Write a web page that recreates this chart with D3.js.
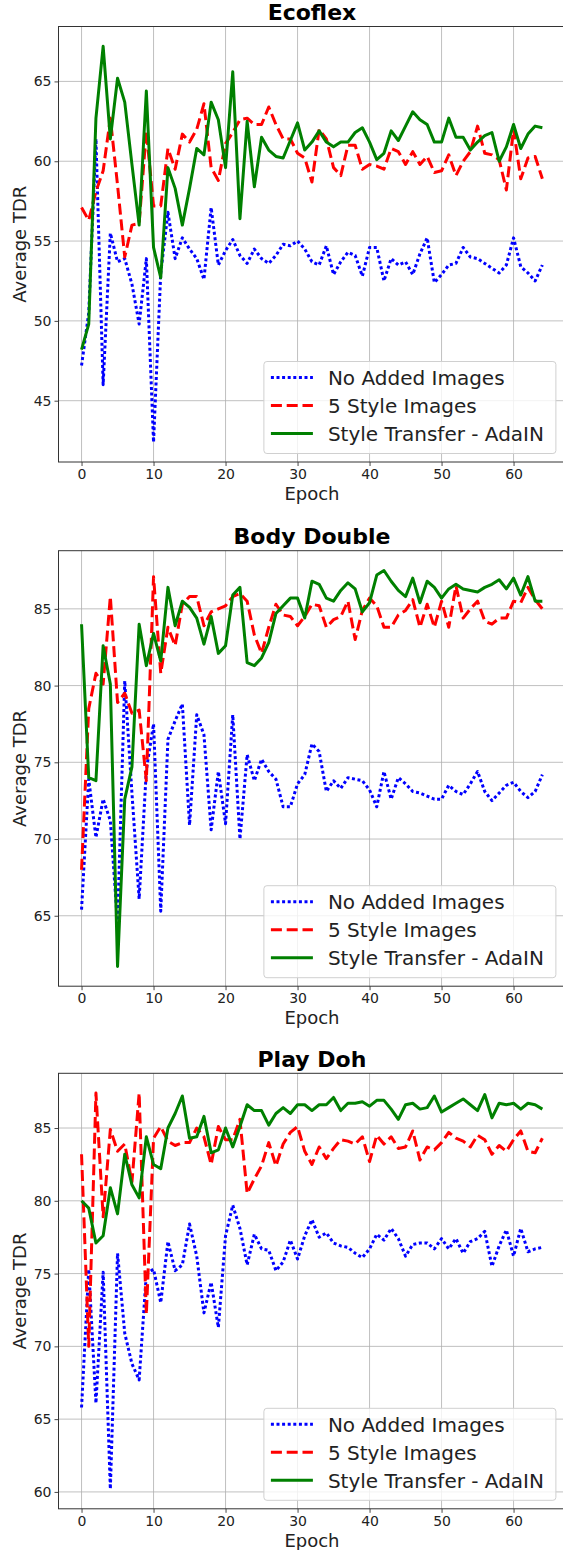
<!DOCTYPE html>
<html>
<head>
<meta charset="utf-8">
<script src="https://cdn.jsdelivr.net/npm/d3@7"></script>
<style>
  body { margin: 0; background: #fff; }
  svg { display: block; font-family: 'DejaVu Sans', sans-serif; }
</style>
</head>
<body>
<div id="chart"></div>
<script>
const panelTitles = ['Ecoflex', 'Body Double', 'Play Doh']
const seriesNames = ['No Added Images', '5 Style Images', 'Style Transfer - AdaIN']
const xTicks = [0, 10, 20, 30, 40, 50, 60]
const yTicksEcoflex = [45, 50, 55, 60, 65]
const yTicksBody = [65, 70, 75, 80, 85]
const yTicksPlay = [60, 65, 70, 75, 80, 85]

// one value per epoch, 0..64
const ecoflexNone = [47.2, 50.5, 61.4, 46.0, 55.5, 53.7, 53.9, 52.3, 49.8, 53.9,
  42.4, 53.0, 56.8, 53.9, 55.2, 54.5, 53.9, 52.6, 57.1, 53.5,
  54.4, 55.1, 54.1, 53.6, 54.5, 53.9, 53.6, 54.1, 54.8, 54.7,
  55.0, 54.5, 53.7, 53.5, 54.7, 52.9, 53.7, 54.3, 54.1, 52.8,
  54.6, 54.6, 52.5, 53.9, 53.5, 53.7, 52.9, 54.2, 55.2, 52.4,
  52.9, 53.5, 53.6, 54.6, 54.0, 53.9, 53.6, 53.3, 53.0, 53.5,
  55.2, 53.4, 53.0, 52.5, 53.5]
const ecoflexStyle = [57.1, 56.3, 58.1, 59.4, 62.7, 58.5, 54.0, 56.0, 56.1, 61.9,
  57.2, 57.2, 60.8, 59.5, 61.7, 61.2, 62.0, 63.6, 59.6, 58.8,
  61.1, 61.8, 62.6, 62.7, 62.3, 62.3, 63.4, 62.3, 61.4, 61.4,
  60.5, 60.2, 58.7, 62.0, 61.4, 59.6, 59.1, 61.0, 61.0, 59.5,
  59.8, 59.7, 59.5, 60.8, 60.6, 59.8, 60.6, 59.8, 60.3, 59.3,
  59.4, 60.4, 59.1, 60.0, 60.6, 62.2, 60.5, 60.4, 60.1, 58.2,
  62.0, 58.9, 60.2, 60.3, 58.9]
const ecoflexAdain = [48.2, 49.8, 62.7, 67.2, 61.4, 65.2, 63.7, 59.8, 56.0, 64.4,
  54.6, 52.7, 59.6, 58.3, 56.0, 58.3, 60.8, 60.4, 63.7, 62.6,
  59.6, 65.6, 56.4, 62.5, 58.4, 61.5, 60.7, 60.3, 60.2, 61.3,
  62.4, 60.7, 61.2, 61.9, 61.2, 60.9, 61.2, 61.2, 61.8, 62.1,
  61.2, 60.1, 60.5, 61.9, 61.3, 62.2, 63.1, 62.6, 62.3, 61.2,
  61.2, 62.7, 61.5, 61.5, 60.7, 61.2, 61.6, 61.8, 60.0, 60.9,
  62.3, 60.8, 61.7, 62.2, 62.1]

const bodyNone = [65.4, 73.9, 70.1, 72.6, 71.2, 64.5, 80.3, 73.0, 66.1, 74.5,
  77.5, 65.3, 76.5, 77.7, 78.8, 70.9, 78.1, 76.8, 70.6, 74.4,
  71.0, 78.1, 70.0, 75.5, 73.8, 75.2, 74.4, 73.9, 72.1, 72.1,
  73.6, 74.2, 76.2, 75.7, 73.1, 73.8, 73.3, 74.0, 73.9, 73.8,
  73.2, 72.1, 74.4, 72.6, 74.0, 73.6, 73.1, 73.0, 72.8, 72.6,
  72.6, 73.5, 73.1, 72.9, 73.6, 74.4, 73.1, 72.5, 73.0, 73.5,
  73.7, 73.1, 72.7, 73.1, 74.2]
const bodyStyle = [68.0, 78.5, 80.8, 80.1, 85.8, 78.9, 79.5, 78.2, 78.4, 73.8,
  87.1, 80.8, 83.8, 82.6, 85.3, 85.8, 85.8, 83.9, 84.8, 85.0,
  85.2, 85.8, 86.0, 85.5, 83.3, 82.1, 83.8, 85.3, 84.6, 84.5,
  83.9, 84.5, 85.3, 85.2, 83.8, 84.3, 84.5, 85.5, 83.0, 84.9,
  85.7, 85.2, 83.8, 83.8, 84.6, 84.9, 85.6, 83.8, 85.3, 83.8,
  85.5, 83.8, 86.5, 84.4, 85.0, 85.5, 84.2, 84.0, 84.4, 84.4,
  85.5, 85.4, 86.4, 85.6, 85.0]
const bodyAdain = [84.0, 74.0, 73.8, 82.6, 80.1, 61.7, 72.6, 74.7, 84.0, 81.3,
  83.4, 81.6, 86.4, 83.9, 85.5, 85.1, 84.4, 82.7, 84.5, 82.1,
  82.6, 85.9, 86.4, 81.5, 81.3, 81.8, 82.8, 84.7, 85.2, 85.7,
  85.7, 84.4, 86.8, 86.6, 85.7, 85.5, 86.2, 86.7, 86.3, 84.8,
  85.4, 87.2, 87.5, 86.8, 86.2, 85.8, 87.0, 85.4, 86.8, 86.4,
  85.7, 86.3, 86.6, 86.3, 86.2, 86.1, 86.4, 86.6, 86.9, 86.3,
  87.0, 85.9, 87.1, 85.5, 85.5]

const playNone = [65.8, 75.3, 66.1, 75.1, 60.2, 76.4, 70.9, 68.8, 67.7, 75.0,
  75.3, 73.0, 77.2, 75.2, 75.6, 78.4, 76.2, 72.3, 74.4, 71.3,
  77.6, 79.7, 78.1, 75.6, 77.7, 76.7, 76.6, 75.2, 75.8, 77.3,
  76.0, 77.6, 78.7, 77.5, 77.8, 77.1, 76.9, 76.8, 76.4, 76.1,
  76.7, 77.7, 77.3, 78.1, 77.4, 76.2, 77.0, 77.1, 77.1, 76.7,
  77.4, 76.7, 77.4, 76.4, 77.2, 77.4, 77.9, 75.5, 76.9, 78.0,
  76.2, 78.1, 76.5, 76.7, 76.8]
const playStyle = [83.2, 70.0, 87.4, 78.9, 84.9, 83.4, 83.9, 81.3, 87.4, 72.2,
  84.3, 85.1, 84.1, 83.8, 84.0, 84.0, 85.0, 84.4, 82.5, 85.1,
  84.2, 84.2, 85.6, 80.5, 81.5, 82.4, 84.0, 82.4, 83.9, 84.7,
  85.1, 83.4, 82.5, 83.7, 82.9, 83.6, 84.2, 84.1, 83.9, 84.4,
  82.7, 84.5, 83.9, 84.4, 83.6, 83.7, 84.8, 82.8, 83.7, 83.5,
  84.0, 84.7, 84.3, 84.1, 83.7, 84.5, 84.2, 83.2, 83.8, 83.4,
  84.2, 84.8, 83.4, 83.3, 84.3]
const playAdain = [80.0, 79.5, 77.1, 77.6, 80.9, 79.1, 83.2, 81.1, 80.2, 84.4,
  82.5, 82.2, 85.0, 86.0, 87.2, 84.3, 84.4, 85.8, 83.3, 83.5,
  85.0, 83.7, 85.1, 86.6, 86.2, 86.2, 85.2, 86.0, 86.4, 86.0,
  86.6, 86.6, 86.2, 86.6, 86.6, 87.1, 86.2, 86.7, 86.7, 86.8,
  86.5, 86.9, 86.9, 86.3, 85.6, 86.6, 86.7, 86.3, 86.4, 87.2,
  86.1, 86.4, 86.7, 87.0, 86.6, 86.2, 87.3, 85.7, 86.7, 86.6,
  86.7, 86.3, 86.7, 86.6, 86.3]

const panels = [
  { title: panelTitles[0], ticks: yTicksEcoflex, series: [ecoflexNone, ecoflexStyle, ecoflexAdain] },
  { title: panelTitles[1], ticks: yTicksBody, series: [bodyNone, bodyStyle, bodyAdain] },
  { title: panelTitles[2], ticks: yTicksPlay, series: [playNone, playStyle, playAdain] }
]

const styles = [
  { color: '#0000ff', dash: '3,2.6' },
  { color: '#ff0000', dash: '11,4.8' },
  { color: '#008000', dash: null }
]

const width = 563
const height = 1550
const left = 58.5
const right = 565.4
const panelTops = [26.5, 550.7, 1073.3]
const panelH = 435.5

const svg = d3.select('#chart')
  .append('svg')
  .attr('width', width)
  .attr('height', height)

const nEpochs = ecoflexNone.length
const xPad = (nEpochs - 1) * 0.05
const x = d3.scaleLinear()
  .domain([-xPad, nEpochs - 1 + xPad])
  .range([left, right])

panels.forEach((p, pi) => {
  const top = panelTops[pi]
  const bottom = top + panelH
  const all = p.series.flat()
  const [lo, hi] = d3.extent(all)
  const pad = (hi - lo) * 0.05
  const y = d3.scaleLinear()
    .domain([lo - pad, hi + pad])
    .range([bottom, top])

  const g = svg.append('g')

  g.append('clipPath')
    .attr('id', 'clip' + pi)
    .append('rect')
    .attr('x', left)
    .attr('y', top)
    .attr('width', right - left)
    .attr('height', panelH)

  // grid
  g.selectAll('.vgrid')
    .data(xTicks)
    .enter()
    .append('line')
    .attr('x1', d => x(d))
    .attr('x2', d => x(d))
    .attr('y1', top)
    .attr('y2', bottom)
    .attr('stroke', '#b0b0b0')
    .attr('stroke-width', 0.8)

  g.selectAll('.hgrid')
    .data(p.ticks)
    .enter()
    .append('line')
    .attr('x1', left)
    .attr('x2', right)
    .attr('y1', d => y(d))
    .attr('y2', d => y(d))
    .attr('stroke', '#b0b0b0')
    .attr('stroke-width', 0.8)

  // series lines
  const line = d3.line()
    .x((d, i) => x(i))
    .y(d => y(d))

  p.series.forEach((s, si) => {
    g.append('path')
      .datum(s)
      .attr('clip-path', `url(#clip${pi})`)
      .attr('d', line)
      .attr('fill', 'none')
      .attr('stroke', styles[si].color)
      .attr('stroke-width', 3)
      .attr('stroke-linejoin', 'round')
      .attr('stroke-dasharray', styles[si].dash)
  })

  // axes with d3 axis generators
  const xAxis = g.append('g')
    .attr('transform', `translate(0,${bottom})`)
    .call(d3.axisBottom(x).tickValues(xTicks).tickSizeOuter(0).tickSize(4).tickPadding(3))
  const yAxis = g.append('g')
    .attr('transform', `translate(${left},0)`)
    .call(d3.axisLeft(y).tickValues(p.ticks).tickSizeOuter(0).tickSize(4).tickPadding(3))

  ;[xAxis, yAxis].forEach(a => {
    a.select('.domain').remove()
    a.selectAll('.tick line').attr('stroke', '#333').attr('stroke-width', 0.9)
    a.selectAll('.tick text')
      .attr('fill', '#222')
      .style('font-size', '14px')
      .style('font-family', "'DejaVu Sans', sans-serif")
  })

  // spines
  g.append('rect')
    .attr('x', left)
    .attr('y', top)
    .attr('width', right - left)
    .attr('height', panelH)
    .attr('fill', 'none')
    .attr('stroke', '#333')
    .attr('stroke-width', 1)

  // title + labels
  g.append('text')
    .attr('x', (left + right) / 2)
    .attr('y', top - 6.5)
    .attr('text-anchor', 'middle')
    .style('font-size', '22px')
    .style('font-weight', 'bold')
    .text(p.title)

  g.append('text')
    .attr('x', (left + right) / 2)
    .attr('y', bottom + 38)
    .attr('text-anchor', 'middle')
    .attr('fill', '#222')
    .style('font-size', '18px')
    .text('Epoch')

  g.append('text')
    .attr('transform', `translate(26,${(top + bottom) / 2}) rotate(-90)`)
    .attr('text-anchor', 'middle')
    .attr('fill', '#222')
    .style('font-size', '18px')
    .text('Average TDR')

  // legend, lower right
  const lw = 292
  const lh = 92
  const lx = right - 9.5 - lw
  const ly = bottom - 8.5 - lh
  const legend = g.append('g').attr('transform', `translate(${lx},${ly})`)
  legend.append('rect')
    .attr('width', lw)
    .attr('height', lh)
    .attr('rx', 3)
    .attr('fill', '#fff')
    .attr('fill-opacity', 0.8)
    .attr('stroke', '#d0d0d0')
    .attr('stroke-width', 1)

  const items = legend.selectAll('.item')
    .data(seriesNames)
    .enter()
    .append('g')
    .attr('transform', (d, i) => `translate(0,${16 + i * 28})`)

  items.append('line')
    .attr('x1', 7)
    .attr('x2', 49)
    .attr('stroke', (d, i) => styles[i].color)
    .attr('stroke-width', 3)
    .attr('stroke-dasharray', (d, i) => styles[i].dash)

  items.append('text')
    .attr('x', 64)
    .attr('dy', '0.36em')
    .attr('fill', '#222')
    .style('font-size', '20px')
    .text(d => d)
})
</script>
</body>
</html>
